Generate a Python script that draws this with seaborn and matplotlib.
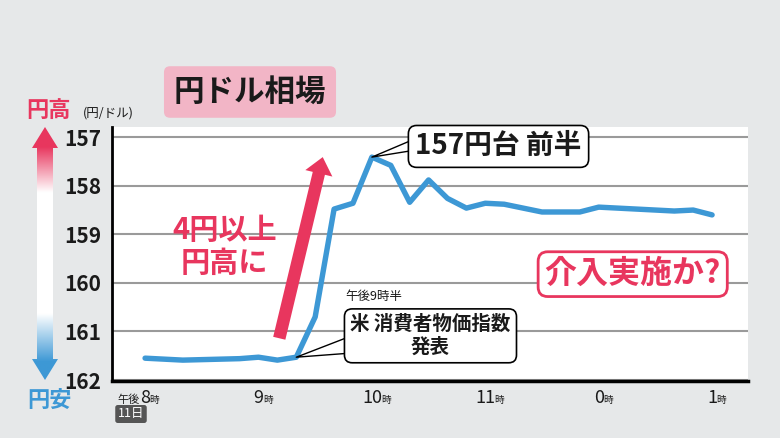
import numpy as np
import matplotlib
matplotlib.use('Agg')
import matplotlib.pyplot as plt
import matplotlib.colors as mcolors
import seaborn as sns
from matplotlib.patches import Polygon

# minutes after 8 p.m. (11th), one point every 10 minutes
minutes = [0, 10, 20, 30, 40, 50, 60, 70, 80, 90, 100, 110, 120, 130, 140, 150,
           160, 170, 180, 190, 200, 210, 220, 230, 240, 250, 260, 270, 280, 290, 300]
rates = [161.55, 161.57, 161.59, 161.58, 161.57, 161.56, 161.53, 161.59, 161.53, 160.70,
         158.48, 158.36, 157.41, 157.58, 158.34, 157.88, 158.26, 158.46, 158.36, 158.38,
         158.46, 158.54, 158.54, 158.54, 158.44, 158.46, 158.48, 158.50, 158.52, 158.50,
         158.60]
y_ticks = [157, 158, 159, 160, 161, 162]
hour_pos = [0, 60, 120, 180, 240, 300]
hour_labels = ['8', '9', '10', '11', '0', '1']

PINK = '#e8365e'
BLUE = '#3d98d5'
BG = '#e6e8e9'

sns.set_style('white')
plt.rcParams['font.family'] = ['Noto Sans CJK JP', 'DejaVu Sans']

fig = plt.figure(figsize=(7.8, 4.38), dpi=100, facecolor=BG)
ax = fig.add_axes([112 / 780, 1 - 381 / 438, 636 / 780, 254 / 438])
ax.set_facecolor('white')

sns.lineplot(x=minutes, y=rates, ax=ax, color=BLUE, linewidth=3.9, zorder=3)

ax.set_xlim(-17.5, 319)
ax.set_ylim(162.02, 156.79)
ax.set_yticks(y_ticks)
ax.set_yticklabels([str(v) for v in y_ticks], fontsize=15, fontweight='bold')
ax.tick_params(axis='y', length=0, pad=8, colors='#1a1a1a')
ax.set_xticks(minutes)
ax.set_xticklabels([])
ax.tick_params(axis='x', direction='in', length=4, width=1, color='#888888')
ax.grid(axis='y', color='#9a9a9a', lw=1.5, zorder=1)
ax.grid(axis='x', visible=False)
for s in ['top', 'right']:
    ax.spines[s].set_visible(False)
ax.spines['left'].set_color('black')
ax.spines['left'].set_linewidth(2)
ax.spines['bottom'].set_color('black')
ax.spines['bottom'].set_linewidth(2.5)
ax.set_xlabel('')
ax.set_ylabel('')

# hour labels under the axis
xt = ax.get_xaxis_transform()
for i, (pos, lab) in enumerate(zip(hour_pos, hour_labels)):
    t = ax.annotate(lab, xy=(pos, 0), xycoords=xt, xytext=(0, -6), textcoords='offset points',
                    ha='center', va='top', fontsize=13, color='#1a1a1a')
    ax.annotate('時', xy=(1, 0), xycoords=t, xytext=(-0.5, 2), textcoords='offset points',
                ha='left', va='bottom', fontsize=7, color='#1a1a1a')
    if i == 0:
        ax.annotate('午後', xy=(0, 0), xycoords=t, xytext=(0, 2), textcoords='offset points',
                    ha='right', va='bottom', fontsize=8, color='#1a1a1a')

fig.text(131 / 780, 1 - 414 / 438, '11日', ha='center', va='center', fontsize=9,
         color='white', bbox=dict(boxstyle='round,pad=0.2', fc='#555555', ec='none'))

# title
fig.text(250 / 780, 1 - 92 / 438, '円ドル相場', ha='center', va='center', fontsize=22,
         fontweight='bold', color='#1a1a1a',
         bbox=dict(boxstyle='round,pad=0.32,rounding_size=0.2', fc='#f2b5c6', ec='none'))

# left gradient arrow
axl = fig.add_axes([20 / 780, 1 - 380 / 438, 50 / 780, 253 / 438])
axl.set_axis_off()
axl.patch.set_visible(False)
axl.set_xlim(0, 1)
axl.set_ylim(0, 1)
tt = np.linspace(0, 1, 256)
pk = np.array(mcolors.to_rgb(PINK))
bl = np.array(mcolors.to_rgb(BLUE))
wp = np.clip((0.26 - tt) / 0.18, 0, 1)[:, None]
wb = np.clip((tt - 0.74) / 0.19, 0, 1)[:, None]
grad = 1 - wp * (1 - pk) - wb * (1 - bl)
im = axl.imshow(grad[:, None, :], extent=[0, 1, 0, 1], aspect='auto', origin='upper')
arrow_pts = [(0.5, 1), (0.76, 0.917), (0.66, 0.917), (0.66, 0.083), (0.76, 0.083),
             (0.5, 0), (0.24, 0.083), (0.34, 0.083), (0.34, 0.917), (0.24, 0.917)]
poly = Polygon(arrow_pts, closed=True, transform=axl.transAxes, fc='none', ec='none')
axl.add_patch(poly)
im.set_clip_path(poly)

fig.text(49 / 780, 1 - 110 / 438, '円高', ha='center', va='center', fontsize=16,
         fontweight='bold', color=PINK)
fig.text(108 / 780, 1 - 113 / 438, '(円/ドル)', ha='center', va='center', fontsize=9,
         color='#1a1a1a')
fig.text(50 / 780, 1 - 400 / 438, '円安', ha='center', va='center', fontsize=16,
         fontweight='bold', color=BLUE)

# callouts
ax.annotate('157円台 前半', xy=(minutes[12], rates[12]), xytext=(187, 157.19),
            ha='center', va='center', fontsize=20, fontweight='bold', color='#1a1a1a',
            bbox=dict(boxstyle='round,pad=0.25,rounding_size=0.3', fc='white', ec='black', lw=1.2),
            arrowprops=dict(arrowstyle='wedge,tail_width=0.4', fc='white', ec='black', lw=1.0,
                            patchA=None, relpos=(0.02, 0.6), shrinkB=0), zorder=5)

ax.annotate('米 消費者物価指数\n発表', xy=(minutes[8], rates[8]), xytext=(151, 161.09),
            ha='center', va='center', fontsize=14, fontweight='bold', color='#1a1a1a',
            linespacing=1.25, multialignment='center',
            bbox=dict(boxstyle='round,pad=0.3,rounding_size=0.4', fc='white', ec='black', lw=1.2),
            arrowprops=dict(arrowstyle='wedge,tail_width=0.85', fc='white', ec='black', lw=1.0,
                            patchA=None, relpos=(0.02, 0.3), shrinkB=0), zorder=5)
ax.text(106, 160.27, '午後9時半', ha='left', va='center', fontsize=9, color='#1a1a1a', zorder=5)

ax.annotate('', xy=(94, 157.41), xytext=(71, 161.14),
            arrowprops=dict(arrowstyle='simple,head_length=1.2,head_width=2.0,tail_width=0.9',
                            fc=PINK, ec='none', mutation_scale=10, shrinkA=0, shrinkB=0), zorder=4)
ax.text(42, 159.25, '4円以上\n円高に', ha='center', va='center', fontsize=21,
        fontweight='bold', color=PINK, linespacing=1.15, zorder=4)

ax.text(258, 159.82, '介入実施か?', ha='center', va='center', fontsize=23, fontweight='bold',
        color=PINK, zorder=5,
        bbox=dict(boxstyle='round,pad=0.2,rounding_size=0.3', fc='white', ec=PINK, lw=2))

fig.savefig('out.png', dpi=100, facecolor=BG)
